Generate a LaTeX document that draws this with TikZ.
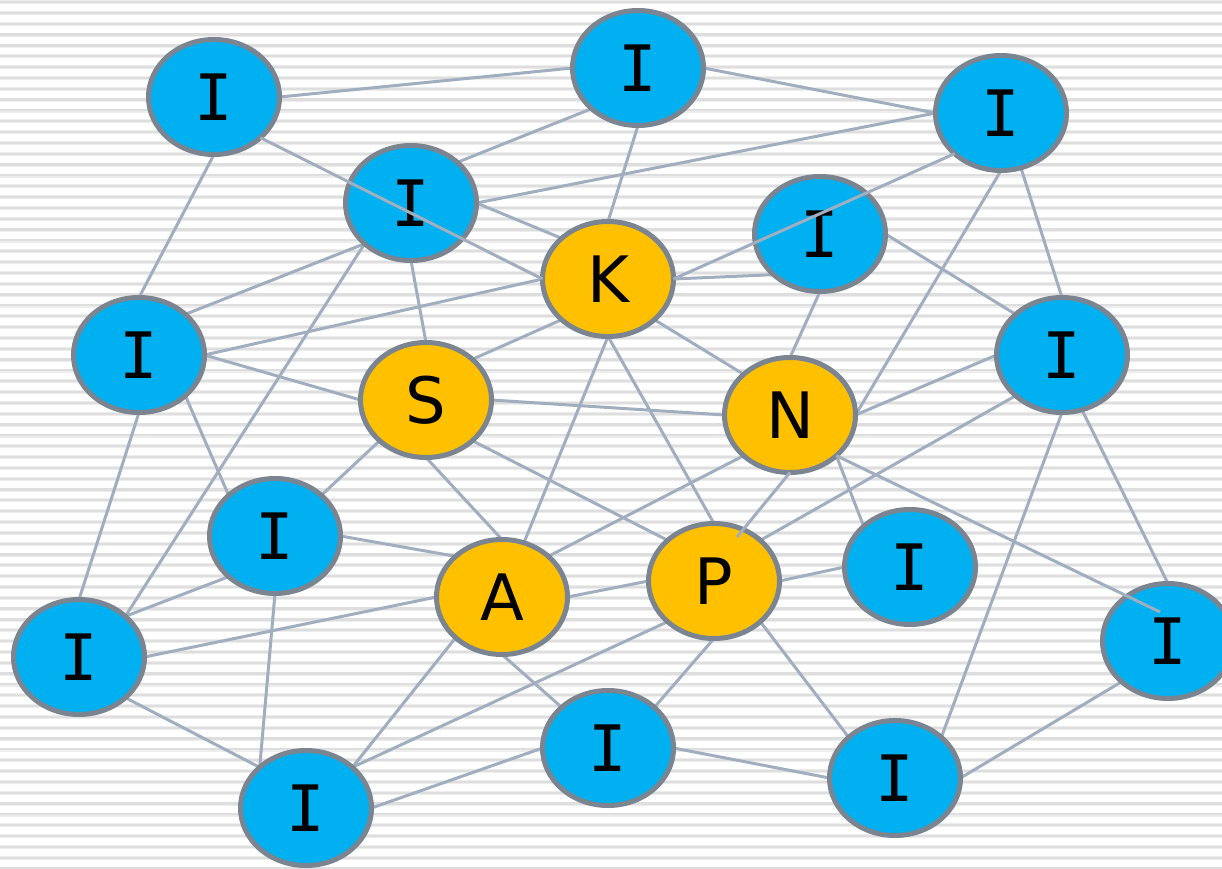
\documentclass[tikz,border=0pt]{standalone}
\usepackage{fontspec}
\setmainfont{DejaVu Sans}
\newfontfamily\monofont{DejaVu Sans Mono}
\usetikzlibrary{shapes.geometric,calc}
\definecolor{bluefill}{HTML}{00B0F0}
\definecolor{orangefill}{HTML}{FFC000}
\definecolor{bordercol}{HTML}{7B8591}
\definecolor{edgecol}{HTML}{A0AEC0}
\definecolor{stripedark}{HTML}{DEDEDE}
\definecolor{stripelight}{HTML}{EDEDED}
\pgfdeclarelayer{bg}
\pgfdeclarelayer{edges}
\pgfsetlayers{bg,edges,main}
\tikzset{
  basenode/.style={ellipse, draw=bordercol, line width=5pt, minimum width=131pt, minimum height=115pt, inner sep=0pt, outer sep=0pt},
  inode/.style={basenode, fill=bluefill, font=\monofont\fontsize{64}{70}\selectfont},
  onode/.style={basenode, fill=orangefill, font=\fontsize{64}{70}\selectfont},
  edge/.style={draw=edgecol, line width=3pt}
}
\begin{document}
\begin{tikzpicture}[x=1pt,y=-1pt]
\useasboundingbox (0,0) rectangle (1222,869);
\begin{pgfonlayer}{bg}
\fill[white] (0,0) rectangle (1222,869);
\foreach \k in {0,...,80} {
  \fill[stripelight] (0,{0.3+10.83*\k}) rectangle (1222,{4.3+10.83*\k});
  \fill[stripedark] (0,{1+10.83*\k}) rectangle (1222,{3.2+10.83*\k});
}
\end{pgfonlayer}
% nodes
\node[inode] (a) at (214,97) {I};
\node[inode] (b) at (638,68) {I};
\node[inode] (c) at (1001,113) {I};
\node[inode] (d) at (411,203) {I};
\node[onode] (K) at (608,279) {K};
\node[inode] (f) at (820,234) {I};
\node[inode] (g) at (139,355) {I};
\node[onode] (S) at (426,400) {S};
\node[onode] (N) at (790,415) {N};
\node[inode] (h) at (1062,355) {I};
\node[inode] (i) at (275,536) {I};
\node[onode] (A) at (502,597) {A};
\node[onode] (P) at (714,581) {P};
\node[inode] (j) at (910,567) {I};
\node[inode] (k) at (1168,641) {I};
\node[inode] (l) at (79,657) {I};
\node[inode] (m) at (306,808) {I};
\node[inode] (o) at (608,748) {I};
\node[inode] (q) at (895,778) {I};
% edges behind nodes
\begin{pgfonlayer}{edges}
\draw[edge] (a.east) -- (b.west);
\draw[edge] (b.east) -- (c.west);
\draw[edge] (b.south west) -- (d.north east);
\draw[edge] (b.south) -- (K.north);
\draw[edge] (c.west) -- (d.east);
\draw[edge] (a.south) -- (g.north);
\draw[edge] (d.south west) -- (g.north east);
\draw[edge] (d.south) -- (S.north);
\draw[edge] (d.south west) -- (l.north east);
\draw[edge] (d.east) -- (K.north west);
\draw[edge] (c.south) -- (N.east);
\draw[edge] (c.-70) -- (h.north);
\draw[edge] (f.south west) -- (K.east);
\draw[edge] (f.south) -- (N.north);
\draw[edge] (f.east) -- (h.north west);
\draw[edge] (K.west) -- (g.east);
\draw[edge] (K.south west) -- (S.north east);
\draw[edge] (K.south east) -- (N.north west);
\draw[edge] (K.south) -- (A.68);
\draw[edge] (K.south) -- (P.north);
\draw[edge] (g.east) -- (S.west);
\draw[edge] (g.south east) -- (i.north west);
\draw[edge] (g.south) -- (l.north);
\draw[edge] (S.east) -- (N.west);
\draw[edge] (S.south west) -- (i.north east);
\draw[edge] (S.south) -- (A.north);
\draw[edge] (S.south east) -- (P.north west);
\draw[edge] (N.east) -- (h.west);
\draw[edge] (N.south west) -- (A.north east);
\draw[edge] (N.south east) -- (j.north west);
\draw[edge] (h.south west) -- (P.north east);
\draw[edge] (P.west) -- (A.east);
\draw[edge] (P.east) -- (j.west);
\draw[edge] (P.south) -- (o.north east);
\draw[edge] (P.south east) -- (q.north west);
\draw[edge] (P.south west) -- (m.north east);
\draw[edge] (A.west) -- (l.east);
\draw[edge] (i.east) -- (A.north west);
\draw[edge] (A.south west) -- (m.north east);
\draw[edge] (A.south) -- (o.north west);
\draw[edge] (i.south west) -- (l.north east);
\draw[edge] (i.south) -- (m.north west);
\draw[edge] (l.south east) -- (m.north west);
\draw[edge] (m.east) -- (o.west);
\draw[edge] (o.east) -- (q.west);
\draw[edge] (q.north east) -- (h.south);
\draw[edge] (q.east) -- (k.south west);
\draw[edge] (h.-70) -- (k.north);
\end{pgfonlayer}
% edges drawn over nodes
\coordinate (pin) at ($(P)+(23,-44)$);
\coordinate (kin) at ($(k)+(-8,-29)$);
\draw[edge] (a.south east) -- (K.west);
\draw[edge] (c.south west) -- (K.east);
\draw[edge] (N.south) -- (pin);
\draw[edge] (N.south east) -- (kin);
\end{tikzpicture}
\end{document}
